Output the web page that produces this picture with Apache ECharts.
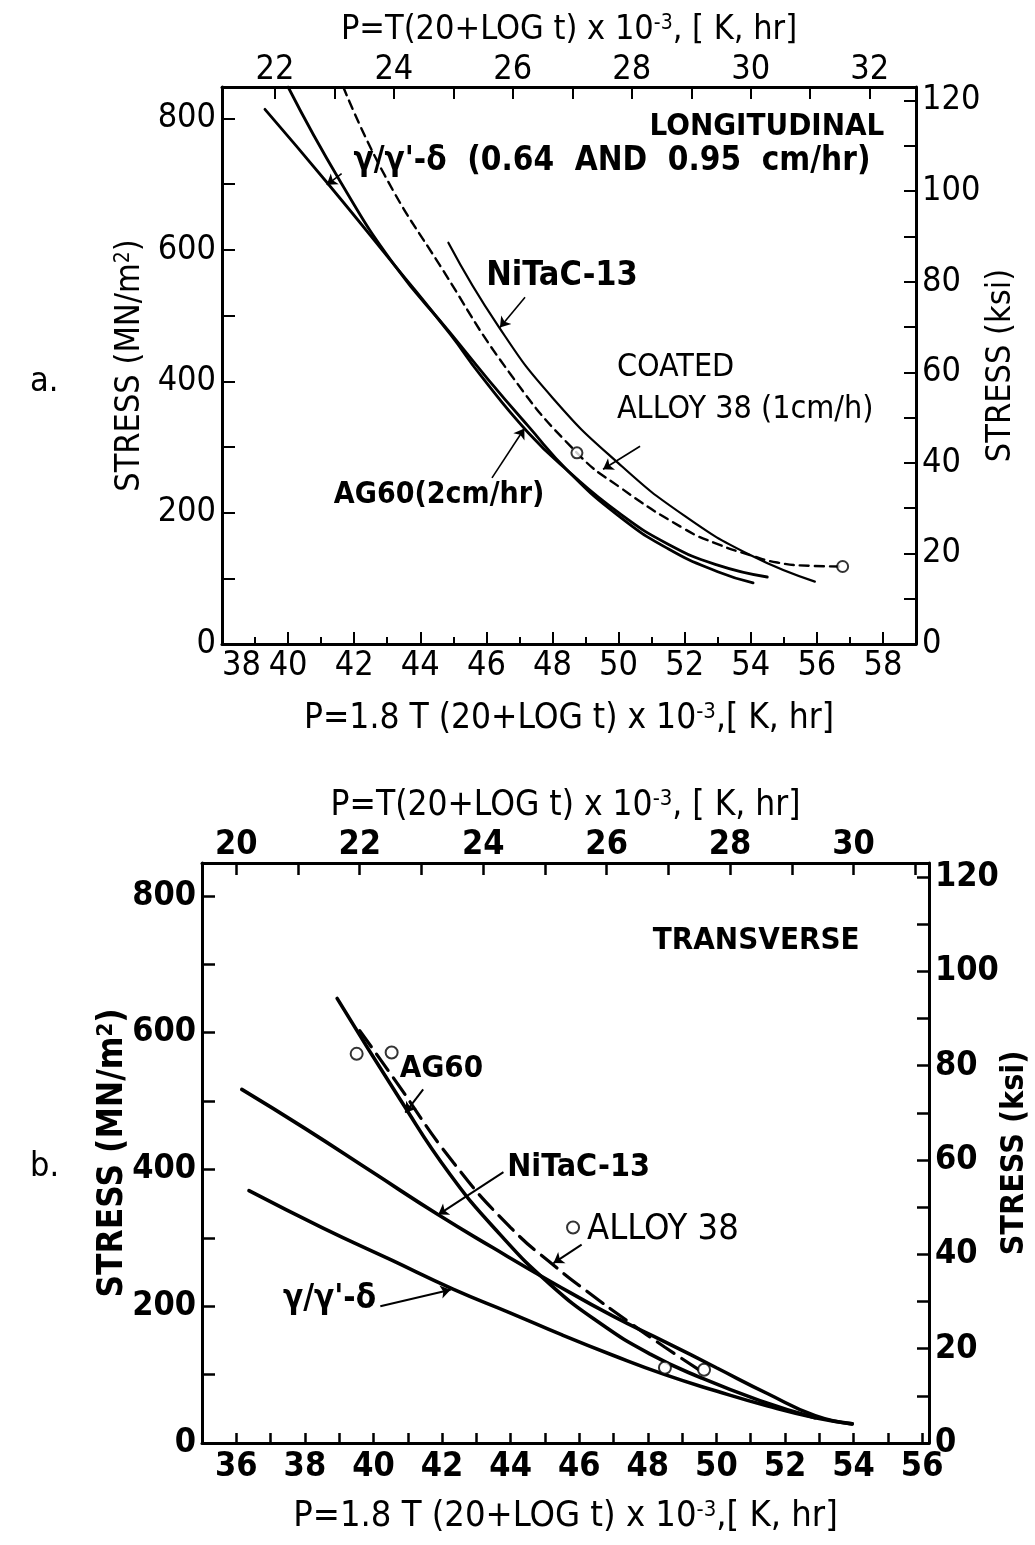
<!DOCTYPE html>
<html><head><meta charset="utf-8">
<script src="https://cdn.jsdelivr.net/npm/echarts@6/dist/echarts.min.js"></script>
<style>html,body{margin:0;padding:0;background:#fff}#c{width:1035px;height:1545px}</style>
</head><body><div id="c"></div>
<script>
// ---------- Panel a (LONGITUDINAL) ----------
const aGammaP = [39.3, 41.17, 43.2, 44.9, 45.81, 47.26, 48.5, 50, 51.5, 53, 54.5];
const aGammaS = [814, 703, 578, 472, 410, 322, 262, 200, 152, 120, 102];
const aAG60P = [40.0, 41.57, 43.23, 44.9, 46.05, 47.26, 48.5, 50, 51.5, 53, 54.07];
const aAG60S = [848, 705, 576, 474, 403, 332, 262, 195, 145, 110, 93];
const aNiTaCP = [44.85, 46.36, 48, 50, 52, 54, 55.94];
const aNiTaCS = [611, 484, 375, 275, 195, 135, 95];
const aAlloy38P = [41.67, 42.93, 44.6, 46.77, 48.74, 50, 52, 53, 54, 54.8, 55.8, 56.78];
const aAlloy38S = [848, 713, 576, 408, 291, 240, 175, 152, 135, 124, 119, 118];
const aPointsP = [48.74, 56.78];
const aPointsS = [291, 118];
const aBottomTicks = [38, 40, 42, 44, 46, 48, 50, 52, 54, 56, 58];
const aTopTicks = [22, 23, 24, 25, 26, 27, 28, 29, 30, 31, 32];
const aTopLabels = [22, 24, 26, 28, 30, 32];
const aLabels = [
  ['LONGITUDINAL', 54.49, 787, 'center', 'bold', 31],
  ["γ/γ'-δ  (0.64  AND  0.95  cm/hr)", 49.8, 735, 'center', 'bold', 33],
  ['NiTaC-13', 48.29, 560, 'center', 'bold', 34],
  ['COATED', 49.95, 421, 'left', 'normal', 32],
  ['ALLOY 38 (1cm/h)', 49.95, 357, 'left', 'normal', 32],
  ['AG60(2cm/hr)', 44.57, 227, 'center', 'bold', 30]
];
const aArrows = [
  [[41.62, 716], [41.17, 699]],
  [[47.17, 528], [46.41, 482]],
  [[50.65, 301], [49.53, 266]],
  [[46.17, 253], [47.15, 328]]
];
// ---------- Panel b (TRANSVERSE) ----------
const bNiTaCP = [36.16, 38, 40, 41.88, 43.5, 45.24, 47, 48.5, 50, 51.5, 52.88, 53.96];
const bNiTaCS = [517, 460, 395, 334, 285, 234, 185, 148, 110, 72, 40, 28];
const bGammaP = [36.37, 38.5, 40.5, 42.32, 44, 45.5, 47, 48.5, 50, 51.5, 52.88, 53.96];
const bGammaS = [369, 315, 268, 225, 190, 158, 128, 100, 76, 54, 37, 28];
const bAG60P = [38.94, 40.77, 42.23, 43.69, 45.15, 46.61, 48.07, 49.52, 51.27, 52.88];
const bAG60S = [650, 503, 393, 305, 232, 175, 130, 96, 62, 37];
const bAlloy38P = [39.6, 40.58, 42.33, 44, 45.3, 46.22, 47.5, 48.5, 49.52];
const bAlloy38S = [603, 534, 410, 315, 258, 222, 175, 140, 106];
const bPointsP = [39.51, 40.53, 48.5, 49.64];
const bPointsS = [569, 571, 110, 107];
const bLegendMarker = [45.82, 315];
const bTopTicks = [20, 21, 22, 23, 24, 25, 26, 27, 28, 29, 30, 31];
const bTopLabels = [20, 22, 24, 26, 28, 30];
const bLabels = [
  ['TRANSVERSE', 51.16, 734, 'center', 'bold', 31],
  ['AG60', 40.77, 547, 'left', 'bold', 31],
  ['NiTaC-13', 43.9, 403, 'left', 'bold', 32],
  ['ALLOY 38', 46.23, 312, 'left', 'normal', 36],
  ["γ/γ'-δ", 37.36, 210, 'left', 'bold', 33]
];
const bArrows = [
  [[41.45, 517], [40.93, 483]],
  [[43.79, 396], [41.89, 334]],
  [[46.07, 290], [45.25, 263]],
  [[40.2, 200], [42.25, 224]]
];
const KSI = 6.895;
const YMAX = 848;

const FA = "'DejaVu Sans Condensed','Liberation Sans Narrow','DejaVu Sans',sans-serif";
const FB = "'DejaVu Sans Condensed','Liberation Sans Narrow','DejaVu Sans',sans-serif";
const zip = (p, s) => p.map((v, i) => [v, s[i]]);
const BLACK = '#000';

function nameStyle(size, weight, font) {
  return {
    color: BLACK, fontSize: size, fontWeight: weight, fontFamily: font,
    rich: { sup: { fontSize: Math.round(size * 0.62), fontWeight: weight, fontFamily: font, color: BLACK, verticalAlign: 'top' } }
  };
}
function lbl(size, weight, font, margin) {
  return { color: BLACK, fontSize: size, fontWeight: weight, fontFamily: font, margin: margin };
}
const line3 = { lineStyle: { color: BLACK, width: 3 } };

const option = {
  backgroundColor: '#fff',
  animation: false,
  grid: [
    { left: 222, top: 87, width: 694, height: 557, outerBoundsMode: 'none', containLabel: false },
    { left: 202, top: 863, width: 727, height: 580, outerBoundsMode: 'none', containLabel: false }
  ],
  xAxis: [
    { gridIndex: 0, type: 'value', position: 'bottom', min: 38, max: 59, interval: 2,
      axisLine: { show: true, onZero: false, ...line3 },
      axisTick: { show: true, inside: true, length: 12, lineStyle: { color: BLACK, width: 2 } },
      minorTick: { show: true, splitNumber: 2, length: 7, lineStyle: { color: BLACK, width: 2 } },
      axisLabel: { ...lbl(34, 'normal', FA, 5), alignMinLabel: 'left',
        formatter: v => aBottomTicks.includes(v) ? String(v) : '' },
      splitLine: { show: false },
      name: 'P=1.8 T (20+LOG t) x 10{sup|-3},[ K, hr]', nameLocation: 'middle', nameGap: 57, nameMoveOverlap: false,
      nameTextStyle: nameStyle(35, 'normal', FA) },
    { gridIndex: 0, type: 'value', position: 'top', min: 38 / 1.8, max: 59 / 1.8,
      axisLine: { show: true, onZero: false, ...line3 },
      axisTick: { show: true, inside: true, length: 12, customValues: aTopTicks, lineStyle: { color: BLACK, width: 2 } },
      axisLabel: { ...lbl(34, 'normal', FA, 0), customValues: aTopLabels },
      splitLine: { show: false },
      name: 'P=T(20+LOG t) x 10{sup|-3}, [ K, hr]', nameLocation: 'middle', nameGap: 40, nameMoveOverlap: false,
      nameTextStyle: nameStyle(34, 'normal', FA) },
    { gridIndex: 1, type: 'value', position: 'bottom', min: 35, max: 56.2, interval: 1,
      axisLine: { show: true, onZero: false, ...line3 },
      axisTick: { show: true, inside: true, length: 10, lineStyle: { color: BLACK, width: 2.5 } },
      axisLabel: { ...lbl(34, 'bold', FB, 7), formatter: v => (Number.isInteger(v) && v % 2 === 0) ? String(v) : '' },
      splitLine: { show: false },
      name: 'P=1.8 T (20+LOG t) x 10{sup|-3},[ K, hr]', nameLocation: 'middle', nameGap: 56, nameMoveOverlap: false,
      nameTextStyle: nameStyle(36, 'normal', FB) },
    { gridIndex: 1, type: 'value', position: 'top', min: 35 / 1.8, max: 56.2 / 1.8,
      axisLine: { show: true, onZero: false, ...line3 },
      axisTick: { show: true, inside: true, length: 12, customValues: bTopTicks, lineStyle: { color: BLACK, width: 2.5 } },
      axisLabel: { ...lbl(34, 'bold', FB, 1), customValues: bTopLabels },
      splitLine: { show: false },
      name: 'P=T(20+LOG t) x 10{sup|-3}, [ K, hr]', nameLocation: 'middle', nameGap: 40, nameMoveOverlap: false,
      nameTextStyle: nameStyle(35, 'normal', FB) }
  ],
  yAxis: [
    { gridIndex: 0, type: 'value', position: 'left', min: 0, max: YMAX, interval: 100,
      axisLine: { show: true, onZero: false, ...line3 },
      axisTick: { show: true, inside: true, length: 13, lineStyle: { color: BLACK, width: 2 } },
      axisLabel: { ...lbl(34, 'normal', FA, 6), formatter: v => v % 200 === 0 ? String(v) : '' },
      splitLine: { show: false },
      name: 'STRESS (MN/m{sup|2})', nameLocation: 'middle', nameGap: 75, nameRotate: 90, nameMoveOverlap: false,
      nameTextStyle: nameStyle(34, 'normal', FA) },
    { gridIndex: 0, type: 'value', position: 'right', min: 0, max: YMAX / KSI, interval: 10,
      axisLine: { show: true, onZero: false, ...line3 },
      axisTick: { show: true, inside: true, length: 12, lineStyle: { color: BLACK, width: 2 } },
      axisLabel: { ...lbl(34, 'normal', FA, 6), formatter: v => (Number.isInteger(v) && v % 20 === 0) ? String(v) : '' },
      splitLine: { show: false },
      name: 'STRESS (ksi)', nameLocation: 'middle', nameGap: 68, nameRotate: 90, nameMoveOverlap: false,
      nameTextStyle: nameStyle(34, 'normal', FA) },
    { gridIndex: 1, type: 'value', position: 'left', min: 0, max: YMAX, interval: 100,
      axisLine: { show: true, onZero: false, ...line3 },
      axisTick: { show: true, inside: true, length: 13, lineStyle: { color: BLACK, width: 2.5 } },
      axisLabel: { ...lbl(34, 'bold', FB, 6), formatter: v => v % 200 === 0 ? String(v) : '' },
      splitLine: { show: false },
      name: 'STRESS (MN/m{sup|2})', nameLocation: 'middle', nameGap: 72, nameRotate: 90, nameMoveOverlap: false,
      nameTextStyle: nameStyle(35, 'bold', FB) },
    { gridIndex: 1, type: 'value', position: 'right', min: 0, max: YMAX / KSI, interval: 10,
      axisLine: { show: true, onZero: false, ...line3 },
      axisTick: { show: true, inside: true, length: 12, lineStyle: { color: BLACK, width: 2.5 } },
      axisLabel: { ...lbl(34, 'bold', FB, 6), formatter: v => (Number.isInteger(v) && v % 20 === 0) ? String(v) : '' },
      splitLine: { show: false },
      name: 'STRESS (ksi)', nameLocation: 'middle', nameGap: 70, nameRotate: 90, nameMoveOverlap: false,
      nameTextStyle: nameStyle(32, 'bold', FB) }
  ],
  graphic: [
    { type: 'text', left: 30, top: 365, style: { text: 'a.', fontSize: 34, fontFamily: FA, fill: BLACK } },
    { type: 'text', left: 30, top: 1150, style: { text: 'b.', fontSize: 34, fontFamily: FA, fill: BLACK } }
  ],
  series: []
};

function curve(name, xi, yi, p, s, width, dash) {
  return { name, type: 'line', xAxisIndex: xi, yAxisIndex: yi, data: zip(p, s),
    showSymbol: false, symbol: 'none', smooth: 0.5, silent: true, z: 3,
    lineStyle: { color: BLACK, width, type: dash || 'solid', cap: 'round' } };
}
function points(name, xi, yi, pts, size) {
  return { name, type: 'scatter', xAxisIndex: xi, yAxisIndex: yi, data: pts, symbol: 'circle', symbolSize: size,
    silent: true, z: 6, itemStyle: { color: '#fff', borderColor: BLACK, borderWidth: 2 } };
}
function texts(name, xi, yi, list, font) {
  return { name, type: 'scatter', xAxisIndex: xi, yAxisIndex: yi, symbolSize: 0, silent: true, z: 7,
    itemStyle: { color: 'rgba(0,0,0,0)' },
    labelLayout: { hideOverlap: false },
    data: list.map(t => ({ name: t[0], value: [t[1], t[2]],
      label: { show: true, position: 'inside', formatter: '{b}', align: t[3], verticalAlign: 'middle',
        fontWeight: t[4], fontSize: t[5], fontFamily: font, color: BLACK, opacity: 1 } })) };
}
function arrows(name, xi, yi, list, width) {
  return { name, type: 'lines', coordinateSystem: 'cartesian2d', xAxisIndex: xi, yAxisIndex: yi, silent: true, z: 5,
    symbol: ['none', 'arrow'], symbolSize: 10,
    lineStyle: { color: BLACK, width, opacity: 1, curveness: 0 },
    data: list.map(c => ({ coords: c })) };
}

option.series.push(
  curve('γ/γ′-δ (a)', 0, 0, aGammaP, aGammaS, 2.8),
  curve('AG60 (a)', 0, 0, aAG60P, aAG60S, 2.8),
  curve('NiTaC-13 (a)', 0, 0, aNiTaCP, aNiTaCS, 2.2),
  curve('Coated Alloy 38 (a)', 0, 0, aAlloy38P, aAlloy38S, 2.4, [9, 6]),
  points('Alloy 38 data (a)', 0, 0, zip(aPointsP, aPointsS), 11),
  texts('labels a', 0, 0, aLabels, FA),
  arrows('arrows a', 0, 0, aArrows, 1.6),
  curve('NiTaC-13 (b)', 2, 2, bNiTaCP, bNiTaCS, 3.6),
  curve('γ/γ′-δ (b)', 2, 2, bGammaP, bGammaS, 3.6),
  curve('AG60 (b)', 2, 2, bAG60P, bAG60S, 3.6),
  curve('Alloy 38 (b)', 2, 2, bAlloy38P, bAlloy38S, 3.2, [20, 9]),
  points('Alloy 38 data (b)', 2, 2, zip(bPointsP, bPointsS).concat([bLegendMarker]), 12),
  texts('labels b', 2, 2, bLabels, FB),
  arrows('arrows b', 2, 2, bArrows, 2)
);

const chart = echarts.init(document.getElementById('c'), null, { renderer: 'canvas' });
chart.setOption(option);
</script>
</body></html>
